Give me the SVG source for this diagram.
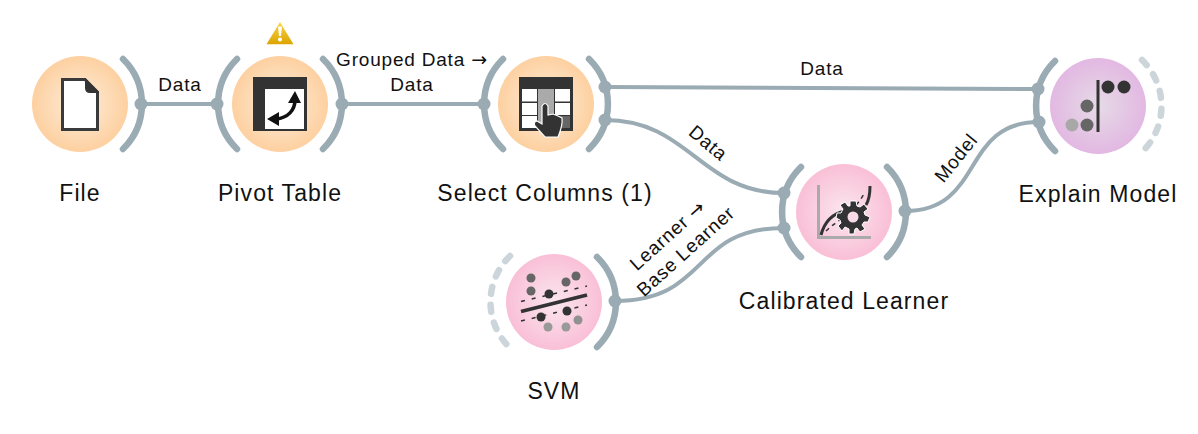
<svg xmlns="http://www.w3.org/2000/svg" width="1198" height="434" viewBox="0 0 1198 434">
<style>
text{font-family:"Liberation Sans",Arial,sans-serif;fill:#111;text-anchor:middle}
.cap{font-size:23px;letter-spacing:1.1px}
.lbl{font-size:19px;letter-spacing:.8px}
.ar{font-family:"DejaVu Sans",sans-serif}
.arc{fill:none;stroke:#9aabb4;stroke-width:6.5;stroke-linecap:round}
.dash{fill:none;stroke:#ccd6da;stroke-width:6.5;stroke-linecap:round;stroke-dasharray:7 11}
.port{fill:#9aabb4}
.link{fill:none;stroke:#9aabb4;stroke-width:4}
.d{fill:#333}.m{fill:#666}.l{fill:#a8a8a8}
</style>
<defs>
<radialGradient id="o"><stop offset="0" stop-color="#fdeedd"/><stop offset="1" stop-color="#fdd0a0"/></radialGradient>
<radialGradient id="p"><stop offset="0" stop-color="#fbe6ef"/><stop offset="1" stop-color="#f9bfd6"/></radialGradient>
<radialGradient id="v"><stop offset="0" stop-color="#e6dbe6"/><stop offset="1" stop-color="#e2b8e2"/></radialGradient>
<linearGradient id="w" x1="0" y1="0" x2="0" y2="1"><stop offset="0" stop-color="#f8da4a"/><stop offset="1" stop-color="#dca200"/></linearGradient>
</defs>
<g id="connectors">
<path class="link" d="M141,104H217"/>
<path class="link" d="M342,104H484"/>
<path class="link" d="M605,87L1038,89"/>
<path class="link" d="M605,120C690,120 700,193 784,193"/>
<path class="link" d="M615,301C710,301 690,228 784,228"/>
<path class="link" d="M905,211C985,211 960,122 1039,122"/>
<text class="lbl" x="180" y="91">Data</text>
<text class="lbl" x="412" y="66">Grouped Data <tspan class="ar">→</tspan></text>
<text class="lbl" x="412" y="91">Data</text>
<text class="lbl" x="822" y="75">Data</text>
<text class="lbl" transform="translate(704,148) rotate(40)">Data</text>
<text class="lbl" transform="translate(961,162) rotate(-51)">Model</text>
<text class="lbl" transform="translate(672,240) rotate(-42)">Learner <tspan class="ar">→</tspan></text>
<text class="lbl" transform="translate(690,256) rotate(-42)">Base Learner</text>
</g>
<g id="file">
<circle cx="80" cy="104" r="48" fill="url(#o)"/>
<path class="arc" d="M123,59A63,63 0 0 1 123,149"/>
<circle class="port" cx="141" cy="104" r="6.5"/>
<path d="M62.5,79.5H85L97.5,92V129.5H62.5Z" fill="#fff" stroke="#3a3a3a" stroke-width="3"/>
<path class="d" d="M85,78L99,92V93H90Q85,93 85,88Z"/>
<text class="cap" x="80" y="201">File</text>
</g>
<g id="pivot">
<circle cx="280" cy="104" r="48" fill="url(#o)"/>
<path class="arc" d="M237,59A63,63 0 0 0 237,149"/>
<path class="arc" d="M323,59A63,63 0 0 1 323,149"/>
<circle class="port" cx="217" cy="104" r="6.5"/>
<circle class="port" cx="342" cy="104" r="6.5"/>
<rect class="d" x="253" y="77" width="54" height="54"/>
<rect x="265" y="89" width="39" height="40" fill="#fff"/>
<path d="M295,100C295,110 288,118 276,119" fill="none" stroke="#111" stroke-width="3.5"/>
<path d="M295,91L301,103H288Z M267,119L279,112V126Z" fill="#111"/>
<path d="M280,20.5L266,43.5Q265,45 267,45H293Q295,45 294,43.5Z" fill="url(#w)" stroke="#fff" stroke-width="1.5"/>
<path d="M278,26.500H282L281,36H279Z" fill="#fff"/><circle cx="280" cy="39.500" r="2" fill="#fff"/>
<text class="cap" x="280" y="201">Pivot Table</text>
</g>
<g id="select">
<circle cx="546" cy="104" r="48" fill="url(#o)"/>
<path class="arc" d="M503,59A63,63 0 0 0 503,149"/>
<path class="arc" d="M589,59A63,63 0 0 1 589,149"/>
<circle class="port" cx="484" cy="104" r="6.500"/>
<circle class="port" cx="605" cy="87" r="6.500"/>
<circle class="port" cx="605" cy="120" r="6.500"/>
<rect class="d" x="519" y="77" width="54" height="54"/>
<g fill="#fff">
<rect x="522" y="89" width="15" height="12.500"/><rect x="555" y="89" width="15" height="12.500"/>
<rect x="522" y="103" width="15" height="12"/><rect x="555" y="103" width="15" height="12"/>
<rect x="522" y="116" width="15" height="12"/>
</g>
<rect x="538" y="89" width="16" height="39" fill="#aaa"/>
<rect x="555" y="116" width="15" height="12" fill="#666"/>
<path class="d" stroke="#fff" stroke-width="1.200" d="M542,106Q545,101 548,106V115L553,114L558,116L562,118Q563,125 558,137H545L535,126Q533,122 537,121L542,124Z"/>
<text class="cap" x="545" y="201">Select Columns (1)</text>
</g>
<g id="calibrated">
<circle cx="844" cy="212" r="48" fill="url(#p)"/>
<path class="arc" d="M801,167A63,63 0 0 0 801,257"/>
<path class="arc" d="M887,167A63,63 0 0 1 887,257"/>
<circle class="port" cx="784" cy="193" r="6.500"/>
<circle class="port" cx="784" cy="228" r="6.500"/>
<circle class="port" cx="905" cy="211" r="6.500"/>
<path d="M818.500,185V237.500H871" fill="none" stroke="#aaa" stroke-width="3"/>
<path d="M821,235C825,220 835,213 845,211M866,205C869,200 870,195 870,186" fill="none" stroke="#333" stroke-width="3"/>
<path d="M826,231C835,222 845,218 852,210C858,203 862,198 865,192" fill="none" stroke="#333" stroke-width="1.500" stroke-dasharray="4 4"/>
<g transform="translate(853,217)">
<path class="d" stroke="#fff" stroke-width="1" d="M-3,-16H3L4,-11L7,-10L11,-13L15,-8L11,-5L12,-2L17,0L15,5L11,5L9,8L12,12L7,15L4,11L2,12L1,17H-4L-4,12L-8,10L-11,14L-15,9L-12,6L-13,3L-17,1L-16,-4L-12,-4L-10,-8L-13,-12L-8,-15L-5,-11L-3,-11Z"/>
<circle r="5.500" fill="#f9dbe8"/>
</g>
<text class="cap" x="844" y="309">Calibrated Learner</text>
</g>
<g id="explain">
<circle cx="1098" cy="106" r="48" fill="url(#v)"/>
<path class="arc" d="M1055,61A63,63 0 0 0 1055,151"/>
<path class="dash" d="M1142,60A64,64 0 0 1 1142,152"/>
<circle class="port" cx="1038" cy="89" r="6.500"/>
<circle class="port" cx="1039" cy="122" r="6.500"/>
<rect class="d" x="1096.500" y="80" width="3" height="52"/>
<circle class="d" cx="1108" cy="87" r="6.500"/><circle class="d" cx="1124" cy="87" r="6.500"/>
<circle class="m" cx="1087" cy="106" r="6.500"/><circle class="m" cx="1087" cy="125" r="6.500"/>
<circle class="l" cx="1072" cy="125" r="6.500"/>
<text class="cap" x="1098" y="202">Explain Model</text>
</g>
<g id="svm">
<circle cx="554" cy="302" r="48" fill="url(#p)"/>
<path class="dash" d="M510,256A64,64 0 0 0 510,348"/>
<path class="arc" d="M597,257A63,63 0 0 1 597,347"/>
<circle class="port" cx="615" cy="301" r="6.500"/>
<path d="M521,311.500L587,295" stroke="#333" stroke-width="3.500"/>
<path d="M521,301.500L587,286M521,321L587,305" stroke="#333" stroke-width="1.500" stroke-dasharray="4 7"/>
<circle class="m" cx="531" cy="278" r="4.500"/><circle class="m" cx="531" cy="291" r="4.500"/>
<circle class="m" cx="566" cy="282" r="4.500"/><circle class="m" cx="576" cy="276" r="4.500"/>
<circle class="d" cx="549" cy="294" r="4.500"/><circle class="d" cx="541" cy="317" r="4.500"/><circle class="d" cx="567" cy="311" r="4.500"/>
<circle fill="#919191" cx="578" cy="320" r="4.500"/><circle fill="#999" cx="548" cy="327" r="4.500"/><circle fill="#999" cx="566" cy="327" r="4.500"/>
<text class="cap" x="554" y="399">SVM</text>
</g>
</svg>
